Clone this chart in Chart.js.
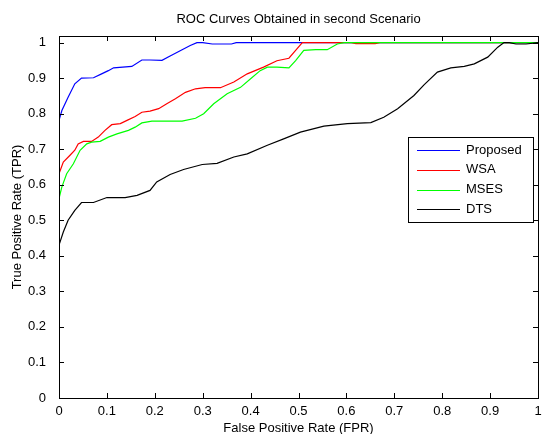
<!DOCTYPE html>
<html>
<head>
<meta charset="utf-8">
<script src="https://cdn.jsdelivr.net/npm/chart.js@4.4.1/dist/chart.umd.min.js"></script>
<style>
  body { margin: 0; background: #fff; }
  canvas { display: block; }
</style>
</head>
<body>
<canvas id="chart" width="542" height="434"></canvas>
<script>
// ROC data
const proposedFpr = [0, 0.006, 0.019, 0.033, 0.047, 0.072, 0.089, 0.103, 0.114, 0.152, 0.173, 0.19, 0.215, 0.232, 0.257, 0.274, 0.288, 0.30, 0.32, 0.36, 0.37, 1.0];
const proposedTpr = [0.781, 0.809, 0.846, 0.884, 0.90, 0.901, 0.912, 0.921, 0.929, 0.933, 0.951, 0.951, 0.95, 0.962, 0.98, 0.992, 1.0, 1.0, 0.996, 0.996, 1.0, 1.0];

const wsaFpr = [0, 0.009, 0.023, 0.033, 0.040, 0.051, 0.068, 0.082, 0.096, 0.110, 0.128, 0.142, 0.159, 0.173, 0.19, 0.208, 0.225, 0.243, 0.264, 0.285, 0.305, 0.337, 0.365, 0.393, 0.427, 0.455, 0.48, 0.494, 0.508, 0.61, 0.62, 0.66, 0.67, 1.0];
const wsaTpr = [0.631, 0.664, 0.683, 0.697, 0.715, 0.722, 0.722, 0.734, 0.753, 0.769, 0.772, 0.781, 0.792, 0.804, 0.807, 0.814, 0.828, 0.842, 0.86, 0.87, 0.873, 0.873, 0.889, 0.912, 0.931, 0.949, 0.956, 0.978, 1.0, 1.0, 0.997, 0.997, 1.0, 1.0];

const msesFpr = [0, 0.006, 0.016, 0.03, 0.044, 0.058, 0.068, 0.086, 0.103, 0.121, 0.145, 0.159, 0.173, 0.194, 0.257, 0.285, 0.302, 0.323, 0.351, 0.379, 0.40, 0.42, 0.435, 0.455, 0.48, 0.494, 0.511, 0.536, 0.56, 0.581, 0.595, 1.0];
const msesTpr = [0.561, 0.594, 0.631, 0.659, 0.697, 0.715, 0.72, 0.722, 0.734, 0.743, 0.753, 0.762, 0.774, 0.779, 0.779, 0.787, 0.80, 0.828, 0.856, 0.874, 0.898, 0.921, 0.931, 0.931, 0.929, 0.949, 0.978, 0.98, 0.98, 0.996, 1.0, 1.0];

const dtsFpr = [0, 0.009, 0.019, 0.033, 0.047, 0.072, 0.10, 0.138, 0.163, 0.19, 0.204, 0.232, 0.26, 0.299, 0.33, 0.365, 0.393, 0.435, 0.469, 0.504, 0.553, 0.602, 0.651, 0.678, 0.707, 0.741, 0.762, 0.79, 0.818, 0.846, 0.867, 0.895, 0.916, 0.929, 0.94, 0.954, 0.975, 1.0];
const dtsTpr = [0.43, 0.467, 0.50, 0.528, 0.55, 0.55, 0.564, 0.564, 0.57, 0.584, 0.608, 0.629, 0.643, 0.657, 0.66, 0.678, 0.687, 0.711, 0.729, 0.748, 0.765, 0.772, 0.775, 0.79, 0.814, 0.851, 0.881, 0.917, 0.929, 0.933, 0.94, 0.959, 0.987, 1.0, 1.0, 0.996, 0.996, 1.0];

const xTicks = [0, 0.1, 0.2, 0.3, 0.4, 0.5, 0.6, 0.7, 0.8, 0.9, 1];
const xTickLabels = ['0', '0.1', '0.2', '0.3', '0.4', '0.5', '0.6', '0.7', '0.8', '0.9', '1'];
const yTicks = [0, 0.1, 0.2, 0.3, 0.4, 0.5, 0.6, 0.7, 0.8, 0.9, 1];
const yTickLabels = ['0', '0.1', '0.2', '0.3', '0.4', '0.5', '0.6', '0.7', '0.8', '0.9', '1'];

const FONT = "'Liberation Sans', Arial, sans-serif";

const toPoints = (xs, ys) => xs.map((x, i) => ({ x: x, y: ys[i] }));

// MATLAB style box with inward ticks on all four sides
const frame = {
    id: 'frame',
    afterDatasetsDraw(chart) {
        const { ctx, chartArea: a, scales } = chart;
        const len = 5;
        ctx.save();
        ctx.strokeStyle = '#000';
        ctx.lineWidth = 1;
        ctx.beginPath();
        xTicks.forEach(v => {
            const px = Math.round(scales.x.getPixelForValue(v)) + 0.5;
            ctx.moveTo(px, a.bottom); ctx.lineTo(px, a.bottom - len);
            ctx.moveTo(px, a.top); ctx.lineTo(px, a.top + len);
        });
        yTicks.forEach(v => {
            const py = Math.round(scales.y.getPixelForValue(v)) + 0.5;
            ctx.moveTo(a.left, py); ctx.lineTo(a.left + len, py);
            ctx.moveTo(a.right, py); ctx.lineTo(a.right - len, py);
        });
        ctx.stroke();
        ctx.strokeRect(Math.round(a.left) + 0.5, Math.round(a.top) + 0.5,
            Math.round(a.right - a.left), Math.round(a.bottom - a.top));
        ctx.restore();
    }
};

// legend box like the MATLAB one
const boxLegend = {
    id: 'boxLegend',
    afterDraw(chart) {
        const ctx = chart.ctx;
        const x0 = 408.5, y0 = 137.5, w = 125, h = 85;
        ctx.save();
        ctx.fillStyle = '#fff';
        ctx.fillRect(x0, y0, w, h);
        ctx.strokeStyle = '#000';
        ctx.lineWidth = 1;
        ctx.strokeRect(x0, y0, w, h);
        ctx.font = '13px ' + FONT;
        ctx.textBaseline = 'middle';
        ctx.fillStyle = '#000';
        chart.data.datasets.forEach((ds, i) => {
            const y = 150 + i * 19.8;
            ctx.strokeStyle = ds.borderColor;
            ctx.beginPath();
            ctx.moveTo(417, Math.round(y) + 0.5);
            ctx.lineTo(460, Math.round(y) + 0.5);
            ctx.stroke();
            ctx.fillText(ds.label, 466, y);
        });
        ctx.restore();
    }
};

const ctx = document.getElementById('chart').getContext('2d');
new Chart(ctx, {
    type: 'line',
    data: {
        datasets: [
            { label: 'Proposed', data: toPoints(proposedFpr, proposedTpr), borderColor: '#0000ff', order: 4 },
            { label: 'WSA', data: toPoints(wsaFpr, wsaTpr), borderColor: '#ff0000', order: 3 },
            { label: 'MSES', data: toPoints(msesFpr, msesTpr), borderColor: '#00ff00', order: 2 },
            { label: 'DTS', data: toPoints(dtsFpr, dtsTpr), borderColor: '#000000', order: 1 }
        ]
    },
    options: {
        responsive: false,
        animation: false,
        events: [],
        elements: {
            line: { borderWidth: 1.2, tension: 0, fill: false },
            point: { radius: 0 }
        },
        layout: { padding: { left: 0, right: 4, top: 0, bottom: 0 } },
        scales: {
            x: {
                type: 'linear',
                min: 0,
                max: 1,
                afterBuildTicks: s => { s.ticks = xTicks.map(v => ({ value: v })); },
                afterFit: s => { s.height = 36; s.paddingLeft = 0; s.paddingRight = 0; },
                grid: { display: false },
                border: { display: false },
                ticks: {
                    color: '#000',
                    font: { family: FONT, size: 13 },
                    padding: -2,
                    maxRotation: 0,
                    callback: (v, i) => xTickLabels[i]
                },
                title: {
                    display: true,
                    text: 'False Positive Rate (FPR)',
                    color: '#000',
                    font: { family: FONT, size: 13, lineHeight: 0.9 },
                    padding: 0
                }
            },
            y: {
                type: 'linear',
                min: 0,
                max: 1.0185,
                afterBuildTicks: s => { s.ticks = yTicks.map(v => ({ value: v })); },
                afterFit: s => { s.width = 59; s.paddingTop = 0; s.paddingBottom = 0; },
                grid: { display: false },
                border: { display: false },
                ticks: {
                    color: '#000',
                    font: { family: FONT, size: 13 },
                    padding: 5,
                    callback: (v, i) => yTickLabels[i]
                },
                title: {
                    display: true,
                    text: 'True Positive Rate (TPR)',
                    color: '#000',
                    font: { family: FONT, size: 13 },
                    padding: { top: 10, bottom: 0 }
                }
            }
        },
        plugins: {
            legend: { display: false },
            tooltip: { enabled: false },
            title: {
                display: true,
                fullSize: false,
                text: 'ROC Curves Obtained in second Scenario',
                color: '#000',
                font: { family: FONT, size: 13, weight: 'normal' },
                padding: { top: 11.5, bottom: 8.9 }
            }
        }
    },
    plugins: [frame, boxLegend]
});
</script>
</body>
</html>
